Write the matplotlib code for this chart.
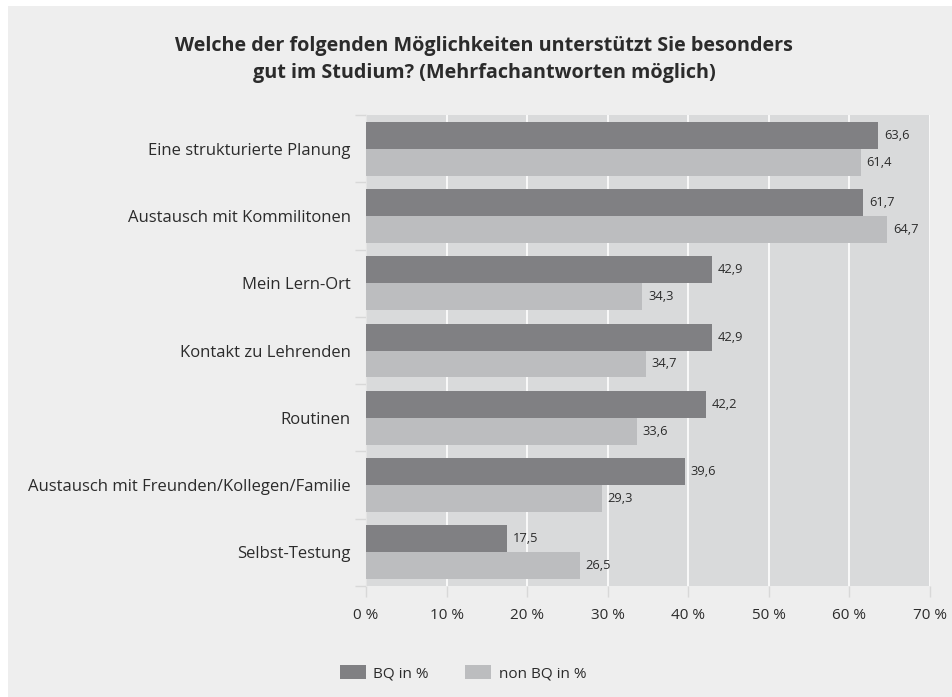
import matplotlib.pyplot as plt
from matplotlib.patches import Rectangle
import numpy as np

plt.rcParams['font.family'] = ['Open Sans', 'DejaVu Sans']

categories = [
    "Eine strukturierte Planung",
    "Austausch mit Kommilitonen",
    "Mein Lern-Ort",
    "Kontakt zu Lehrenden",
    "Routinen",
    "Austausch mit Freunden/Kollegen/Familie",
    "Selbst-Testung",
]
bq = [63.6, 61.7, 42.9, 42.9, 42.2, 39.6, 17.5]
non_bq = [61.4, 64.7, 34.3, 34.7, 33.6, 29.3, 26.5]
xticks = [0, 10, 20, 30, 40, 50, 60, 70]

dark = "#808083"
light = "#bcbdbf"
text_col = "#2b2b2b"

fig = plt.figure(figsize=(9.53, 6.97), dpi=100, facecolor="white")
# grey card with a thin white margin top/left
fig.add_artist(Rectangle((8 / 953, 0), 1, 1 - 6 / 697, transform=fig.transFigure,
                         facecolor="#eeeeee", edgecolor="none", zorder=-5))

ax = fig.add_axes([366 / 953, 111 / 697, 564 / 953, 471 / 697])
ax.set_facecolor("#d9dadb")

y = np.arange(len(categories))
h = 0.40
ax.barh(y - h / 2, bq, height=h, color=dark, zorder=3, label="BQ in %")
ax.barh(y + h / 2, non_bq, height=h, color=light, zorder=3, label="non BQ in %")

for i in range(len(categories)):
    ax.text(bq[i] + 0.7, y[i] - h / 2, f"{bq[i]:.1f}".replace(".", ","),
            va="center", ha="left", fontsize=9.3, color=text_col, zorder=4)
    ax.text(non_bq[i] + 0.7, y[i] + h / 2, f"{non_bq[i]:.1f}".replace(".", ","),
            va="center", ha="left", fontsize=9.3, color=text_col, zorder=4)

ax.set_xlim(0, 70)
ax.set_ylim(len(categories) - 0.5, -0.5)
ax.set_xticks(xticks)
ax.set_xticklabels([f"{t} %" for t in xticks], fontsize=11, color=text_col)
ax.xaxis.grid(True, color="white", linewidth=1.2, zorder=1)
ax.set_axisbelow(True)

ax.set_yticks(y)
ax.set_yticklabels(categories, fontsize=12, color=text_col)
ax.set_yticks(np.arange(len(categories) + 1) - 0.5, minor=True)
ax.tick_params(axis="y", which="major", length=0, pad=11)
ax.tick_params(axis="y", which="minor", length=8, color="#d8d8d8", width=1)
ax.tick_params(axis="x", length=8, color="#d8d8d8", width=1, pad=8)

for s in ["top", "right", "bottom"]:
    ax.spines[s].set_visible(False)
ax.spines["left"].set_color("#e4e4e4")

fig.text(0.508, 0.915, "Welche der folgenden Möglichkeiten unterstützt Sie besonders\n"
         "gut im Studium? (Mehrfachantworten möglich)",
         ha="center", va="center", fontsize=14.2, fontweight="bold",
         color=text_col, linespacing=1.45)

fig.legend(loc="center", bbox_to_anchor=(0.486, 0.034), ncol=2, frameon=False,
           fontsize=11, handlelength=1.7, handleheight=1.0, handletextpad=0.5,
           columnspacing=2.4, labelcolor=text_col)

fig.savefig("out.png", dpi=100, facecolor=fig.get_facecolor())
